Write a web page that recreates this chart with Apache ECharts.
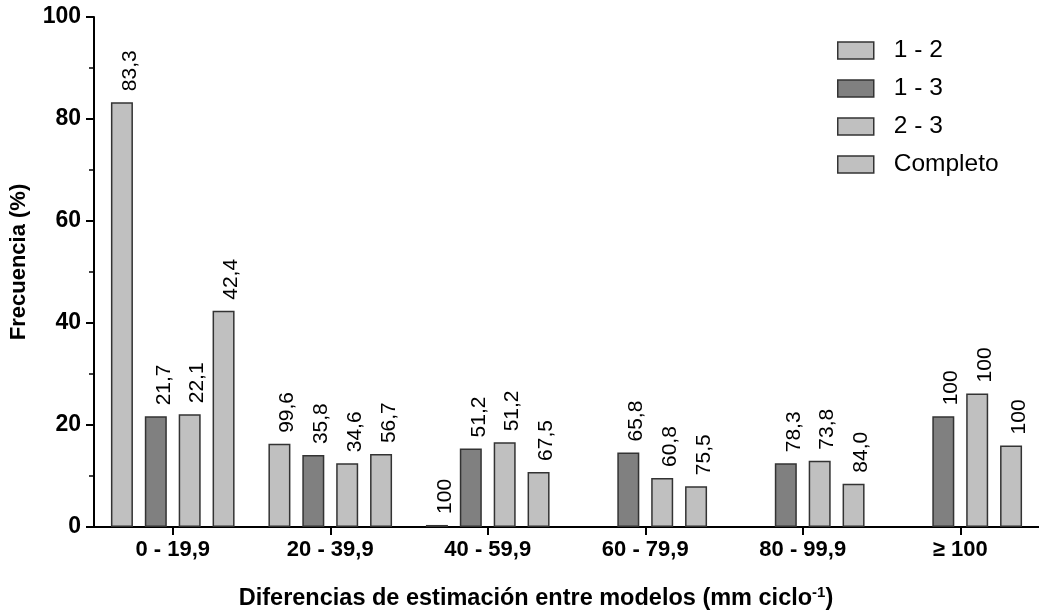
<!DOCTYPE html>
<html>
<head>
<meta charset="utf-8">
<script src="https://cdn.jsdelivr.net/npm/echarts@6/dist/echarts.min.js"></script>
<style>html,body{margin:0;padding:0;background:#fff;}#c{width:1039px;height:615px;}</style>
</head>
<body>
<div id="c"></div>
<script>
var categories = ['0 - 19,9', '20 - 39,9', '40 - 59,9', '60 - 79,9', '80 - 99,9', '\u2265 100'];
var seriesNames = ['1 - 2', '1 - 3', '2 - 3', 'Completo'];
var v12 = [83.3, 16.3, 0.4, null, null, null];
var v13 = [21.7, 14.1, 15.4, 14.6, 12.5, 21.7];
var v23 = [22.1, 12.5, 16.6, 9.6, 13.0, 26.2];
var vComp = [42.4, 14.3, 10.8, 8.0, 8.5, 16.0];
var lab12 = ['83,3', '99,6', '100', '', '', ''];
var lab13 = ['21,7', '35,8', '51,2', '65,8', '78,3', '100'];
var lab23 = ['22,1', '34,6', '51,2', '60,8', '73,8', '100'];
var labComp = ['42,4', '56,7', '67,5', '75,5', '84,0', '100'];
var yTicks = [0, 20, 40, 60, 80, 100];

var FONT = 'Liberation Sans, Arial, sans-serif';
var colors = ['#c0c0c0', '#808080', '#c0c0c0', '#c0c0c0'];
var values = [v12, v13, v23, vComp];
var labels = [lab12, lab13, lab23, labComp];

var chart = echarts.init(document.getElementById('c'), null, {renderer: 'canvas'});
var series = seriesNames.map(function (name, i) {
  return {
    name: name,
    type: 'bar',
    barWidth: 22,
    barGap: '54%',
    data: values[i],
    itemStyle: {color: colors[i], borderColor: '#333', borderWidth: 1.5},
    label: {
      show: true,
      position: 'top',
      rotate: 90,
      align: 'left',
      verticalAlign: 'middle',
      distance: 8,
      offset: [3, 8],
      fontFamily: FONT,
      fontSize: 21,
      color: '#000',
      formatter: function (p) { return labels[i][p.dataIndex]; }
    }
  };
});

chart.setOption({
  animation: false,
  backgroundColor: '#fff',
  textStyle: {fontFamily: FONT},
  grid: {left: 90, top: 17, bottom: 88, right: -4, containLabel: false},
  legend: {
    orient: 'vertical',
    left: 832,
    top: 33,
    itemWidth: 36,
    itemHeight: 17,
    itemGap: 13,
    icon: 'rect',
    data: seriesNames,
    textStyle: {fontFamily: FONT, fontSize: 24.5, color: '#000', padding: [0, 0, 0, 15]},
    itemStyle: {borderColor: '#333', borderWidth: 1.5}
  },
  title: {
    text: 'Diferencias de estimación entre modelos (mm ciclo{sup|-1})',
    left: 531,
    top: 580,
    textAlign: 'center',
    textStyle: {
      fontFamily: FONT, fontSize: 23.5, fontWeight: 'bold', color: '#000',
      rich: {sup: {fontFamily: FONT, fontSize: 15, fontWeight: 'bold', color: '#000', verticalAlign: 'top', padding: [0, 0, 12, 0]}}
    }
  },
  xAxis: {
    type: 'category',
    data: categories,
    axisLine: {lineStyle: {color: '#000', width: 2}},
    axisTick: {show: true, alignWithLabel: true, length: 8, lineStyle: {color: '#000', width: 2}},
    axisLabel: {fontFamily: FONT, fontSize: 22, fontWeight: 'bold', color: '#000', margin: 12}
  },
  yAxis: {
    type: 'value',
    min: yTicks[0],
    max: yTicks[yTicks.length - 1],
    interval: 20,
    name: 'Frecuencia (%)',
    nameLocation: 'middle',
    nameGap: 64,
    nameTextStyle: {fontFamily: FONT, fontSize: 22, fontWeight: 'bold', color: '#000', padding: [0, 0, 0, 20]},
    axisLine: {show: true, lineStyle: {color: '#000', width: 2}},
    axisTick: {show: true, length: 8, lineStyle: {color: '#000', width: 2}},
    minorTick: {show: true, splitNumber: 2, length: 5, lineStyle: {color: '#000', width: 1.5}},
    splitLine: {show: false},
    axisLabel: {fontFamily: FONT, fontSize: 23, fontWeight: 'bold', color: '#000', margin: 13}
  },
  series: series
});
</script>
</body>
</html>
